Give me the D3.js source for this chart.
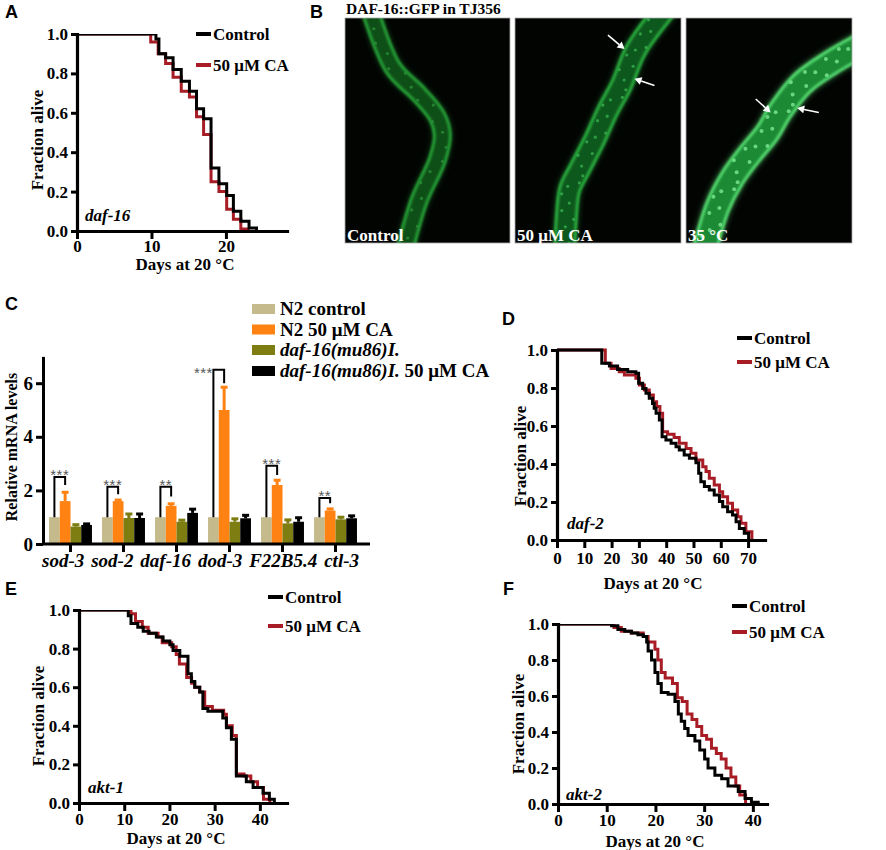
<!DOCTYPE html>
<html><head><meta charset="utf-8">
<script src="https://cdn.jsdelivr.net/npm/d3@7"></script>
<style>body{margin:0;background:#fff}</style>
</head><body>
<script>
// ---------------- DATA ----------------
// Panel A (daf-16)
const daf16Ctrl = [[0,1],[10.6,0.975],[11,0.90],[11.9,0.88],[12.9,0.82],[14,0.76],[15.1,0.71],[16.05,0.62],[17,0.57],[18,0.32],[19.06,0.24],[20.1,0.18],[21,0.10],[22,0.05],[23.1,0.015],[24.1,0]];
const daf16CA   = [[0,1],[9.9,0.96],[10.9,0.90],[11.9,0.85],[12.9,0.78],[14,0.71],[15.1,0.68],[16.05,0.58],[17,0.49],[18,0.25],[19.06,0.20],[20.1,0.11],[21,0.06],[22,0.01],[23,0]];
// Panel D (daf-2)
const daf2Ctrl = [[0,1],[16.4,0.93],[19.2,0.916],[22.2,0.898],[25.9,0.886],[28.9,0.877],[29.9,0.825],[31.4,0.798],[32.6,0.772],[33.8,0.746],[35,0.719],[35.6,0.693],[36.3,0.667],[37.5,0.632],[38.5,0.544],[39.9,0.526],[41.8,0.509],[43.6,0.491],[44.8,0.474],[46.6,0.447],[48.5,0.43],[50.9,0.407],[51.9,0.351],[52.7,0.307],[54,0.281],[55.8,0.263],[57.6,0.237],[59.5,0.202],[60.7,0.175],[62.5,0.149],[64.3,0.132],[65.6,0.096],[66.8,0.061],[68.6,0.035],[70.2,0]];
const daf2CA   = [[0,1],[17.7,0.93],[19.8,0.903],[22.8,0.886],[24.7,0.868],[28.9,0.851],[30.2,0.816],[32,0.79],[33.8,0.763],[35.3,0.728],[36.5,0.702],[37.7,0.667],[38.7,0.57],[40.5,0.556],[42.9,0.539],[44.8,0.509],[47.3,0.482],[49.1,0.456],[50.9,0.421],[53.4,0.386],[54.6,0.36],[55.8,0.325],[57.6,0.289],[59.5,0.254],[60.7,0.228],[62.5,0.193],[64.3,0.158],[66.2,0.123],[67.4,0.088],[69.2,0.044],[71.4,0]];
// Panel E (akt-1)
const akt1Ctrl = [[0,1],[10.9,0.97],[11.5,0.93],[13,0.91],[14.2,0.89],[15.5,0.88],[17.1,0.86],[18.6,0.84],[20.1,0.82],[20.8,0.79],[22.3,0.76],[24.1,0.67],[24.85,0.63],[25.6,0.60],[26.7,0.575],[27.4,0.49],[28.5,0.475],[31.8,0.44],[32.6,0.39],[33.7,0.33],[34.8,0.14],[37,0.11],[38.5,0.08],[40.7,0.05],[42.1,0.02],[43.2,0]];
const akt1CA   = [[0,1],[11.5,0.98],[12.5,0.94],[14,0.91],[15.3,0.88],[17.5,0.86],[18.4,0.83],[20.5,0.81],[21.5,0.77],[22.2,0.72],[23.8,0.65],[24.9,0.62],[25.6,0.60],[26.7,0.575],[27.8,0.50],[29.5,0.48],[32,0.46],[32.6,0.40],[33.9,0.35],[34.8,0.15],[36.5,0.14],[38,0.11],[39.5,0.08],[40.8,0.02],[42.2,0]];
// Panel F (akt-2)
const akt2Ctrl = [[0,1],[11,0.99],[12.3,0.97],[13.7,0.96],[15.1,0.95],[16.4,0.94],[17.5,0.93],[18.2,0.90],[18.5,0.85],[19.2,0.80],[19.9,0.73],[20.5,0.67],[21.2,0.62],[22.6,0.61],[24,0.57],[24.7,0.50],[25.3,0.46],[26,0.42],[26.7,0.38],[28.1,0.35],[29.1,0.30],[30.1,0.25],[30.8,0.20],[32.2,0.16],[33.6,0.14],[34.9,0.10],[37,0.07],[38.4,0.03],[39.7,0.01],[41.1,0]];
const akt2CA   = [[0,1],[11.5,0.98],[13,0.96],[15,0.95],[17.5,0.93],[18.5,0.90],[19.9,0.86],[20.5,0.80],[21.2,0.73],[22,0.70],[23.5,0.67],[24.5,0.59],[25.5,0.57],[26.5,0.50],[27.5,0.47],[28.5,0.43],[29.5,0.38],[30.5,0.36],[31.5,0.31],[32.5,0.28],[33.5,0.25],[34.5,0.20],[35.5,0.15],[36.5,0.10],[37.3,0.05],[38.5,0]];
const fracTicks = [0,0.2,0.4,0.6,0.8,1.0];
const legendNames = ["Control","50 μM CA"];

// Panel C (qPCR)
const genes = ["sod-3","sod-2","daf-16","dod-3","F22B5.4","ctl-3"];
const seriesNames = ["N2 control","N2 50 μM CA","daf-16(mu86)I.","daf-16(mu86)I. 50 μM CA"];
const n2Control    = [1,1,1,1,1,1];
const n2ControlErr = [0,0,0,0,0,0];
const n2CA         = [1.6,1.6,1.42,5.0,2.2,1.25];
const n2CAErr      = [0.33,0.04,0.08,0.85,0.18,0.06];
const daf16Mut     = [0.65,0.97,0.83,0.83,0.77,0.92];
const daf16MutErr  = [0.07,0.15,0.06,0.11,0.13,0.08];
const daf16MutCA   = [0.71,0.97,1.16,0.96,0.83,0.96];
const daf16MutCAErr= [0.04,0.15,0.14,0.11,0.15,0.09];
const sigLabels    = ["***","***","**","***","***","**"];
const bracketTop   = [2.5,2.14,2.14,6.5,2.92,1.72];
const bracketEnd   = [2.2,1.86,1.77,6.0,2.57,1.52];
const mrnaTicks    = [0,2,4,6];

// Panel B
const imageLabels = ["Control","50 μM CA","35 °C"];

// ---------------- STYLE ----------------
const SERIF = "'Liberation Serif','Times New Roman',serif";
const SANS = "'Liberation Sans',Arial,sans-serif";
const RED = "#a81d25";
const barColors = ["#c5ba8b","#ff8213","#7e7d12","#000000"];

const svg = d3.select("body").append("svg").attr("width",886).attr("height",850)
  .style("background","#fff");
const defs = svg.append("defs");

function panelLetter(t,x,y){
  svg.append("text").attr("x",x).attr("y",y).text(t)
    .attr("font-family",SANS).attr("font-weight","bold").attr("font-size",18).attr("fill","#000");
}

// ---------------- SURVIVAL PANELS ----------------
function survival(c){
  const g = svg.append("g");
  const x = d3.scaleLinear().domain([0,c.xEnd]).range([c.px0,c.px1]);
  const y = d3.scaleLinear().domain([0,1]).range([c.py0,c.py1]);
  const line = d3.line().x(d=>x(d[0])).y(d=>y(d[1])).curve(d3.curveStepAfter);
  const lg = g.append("g");
  if(c.clip){
    const id = "clip"+c.id;
    defs.append("clipPath").attr("id",id).append("rect")
      .attr("x",c.px0).attr("y",y(1)).attr("width",c.px1-c.px0).attr("height",c.py0-y(1)+5);
    lg.attr("clip-path",`url(#${id})`);
  }
  lg.append("path").datum(c.ca).attr("d",line).attr("fill","none").attr("stroke",RED).attr("stroke-width",3);
  lg.append("path").datum(c.ctrl).attr("d",line).attr("fill","none").attr("stroke","#000").attr("stroke-width",3);

  const xa = g.append("g").attr("transform",`translate(0,${c.py0})`)
    .call(d3.axisBottom(x).tickValues(c.xTicks).tickSize(8).tickSizeOuter(0).tickPadding(c.xPad).tickFormat(d3.format("d")));
  const ya = g.append("g").attr("transform",`translate(${c.px0},0)`)
    .call(d3.axisLeft(y).tickValues(fracTicks).tickSize(6).tickSizeOuter(0).tickPadding(3).tickFormat(d3.format(".1f")));
  [xa,ya].forEach(a=>{
    a.selectAll("path.domain").attr("stroke","#000").attr("stroke-width",3.2).attr("stroke-linecap","square");
    a.selectAll(".tick line").attr("stroke","#000").attr("stroke-width",3);
    a.selectAll("text").attr("font-family",SERIF).attr("font-weight","bold").attr("font-size",17).attr("fill","#000");
  });
  g.append("text").attr("transform",`translate(${c.ylab[0]},${c.ylab[1]}) rotate(-90)`)
    .attr("text-anchor","middle").attr("dominant-baseline","central").text("Fraction alive")
    .attr("font-family",SERIF).attr("font-weight","bold").attr("font-size",17);
  g.append("text").attr("x",c.xlab[0]).attr("y",c.xlab[1]+7).attr("text-anchor","middle").text("Days at 20 °C")
    .attr("font-family",SERIF).attr("font-weight","bold").attr("font-size",17);
  g.append("text").attr("x",c.gene[1]).attr("y",c.gene[2]).text(c.gene[0])
    .attr("font-family",SERIF).attr("font-weight","bold").attr("font-style","italic").attr("font-size",17);
  const lcol = ["#000",RED];
  legendNames.forEach((nm,i)=>{
    const ly = c.leg[1+i];
    g.append("line").attr("x1",c.leg[0]).attr("x2",c.leg[0]+15).attr("y1",ly).attr("y2",ly)
      .attr("stroke",lcol[i]).attr("stroke-width",4);
    g.append("text").attr("x",c.leg[0]+17).attr("y",ly+6).text(nm)
      .attr("font-family",SERIF).attr("font-weight","bold").attr("font-size",17);
  });
}

survival({id:"A",ctrl:daf16Ctrl,ca:daf16CA,xEnd:28.2,px0:77,px1:287,py0:231,py1:34,xTicks:[0,10,20],xPad:1,
  ylab:[37,140],xlab:[185,263],gene:["daf-16",85,221],leg:[196,34,65],clip:true});
survival({id:"D",ctrl:daf2Ctrl,ca:daf2CA,xEnd:76.2,px0:557,px1:765,py0:540,py1:350,xTicks:[0,10,20,30,40,50,60,70],xPad:4,
  ylab:[520,456],xlab:[653,582],gene:["daf-2",567,529],leg:[737,338,362],clip:false});
survival({id:"E",ctrl:akt1Ctrl,ca:akt1CA,xEnd:46,px0:79,px1:287,py0:803,py1:610,xTicks:[0,10,20,30,40],xPad:2,
  ylab:[38,716],xlab:[176,837],gene:["akt-1",88,793],leg:[268,597,626],clip:true});
survival({id:"F",ctrl:akt2Ctrl,ca:akt2CA,xEnd:42.9,px0:558,px1:767,py0:804,py1:624,xTicks:[0,10,20,30,40],xPad:2,
  ylab:[518,724],xlab:[655,840],gene:["akt-2",566,800],leg:[732,606,632],clip:true});

panelLetter("A",5,18);
panelLetter("B",310,18);
panelLetter("C",5,310);
panelLetter("D",502,325);
panelLetter("E",5,595);
panelLetter("F",503,595);

// ---------------- PANEL C ----------------
(function(){
  const g = svg.append("g");
  const y = d3.scaleLinear().domain([0,7]).range([544,356.4]);
  const x0 = d3.scaleBand().domain(genes).range([44,362]).paddingInner(0.19).paddingOuter(0.095);
  const x1 = d3.scaleBand().domain(seriesNames).range([0,x0.bandwidth()]);
  const means = [n2Control,n2CA,daf16Mut,daf16MutCA];
  const errs = [n2ControlErr,n2CAErr,daf16MutErr,daf16MutCAErr];
  const rows = [];
  genes.forEach((gname,i)=>seriesNames.forEach((s,j)=>rows.push({gene:gname,s,j,v:means[j][i],e:errs[j][i]})));
  const bw = x1.bandwidth();
  rows.filter(d=>d.e>0).forEach(d=>{
    const cx = x0(d.gene)+x1(d.s)+bw/2;
    g.append("line").attr("x1",cx).attr("x2",cx).attr("y1",y(d.v)).attr("y2",y(d.v+d.e))
      .attr("stroke",barColors[d.j]).attr("stroke-width",3);
    g.append("line").attr("x1",cx-3.5).attr("x2",cx+3.5).attr("y1",y(d.v+d.e)).attr("y2",y(d.v+d.e))
      .attr("stroke",barColors[d.j]).attr("stroke-width",3);
  });
  g.selectAll("rect.bar").data(rows).join("rect").attr("class","bar")
    .attr("x",d=>x0(d.gene)+x1(d.s)).attr("width",bw)
    .attr("y",d=>y(d.v)).attr("height",d=>y(0)-y(d.v)).attr("fill",d=>barColors[d.j]);
  genes.forEach((gname,i)=>{
    const lx = x0(gname)+x1(seriesNames[0])+bw/2;
    const rx = x0(gname)+x1(seriesNames[1])+bw/2;
    const path = `M${lx},${y(n2Control[i])}V${y(bracketTop[i])}H${rx}V${y(bracketEnd[i])}`;
    g.append("path").attr("d",path).attr("fill","none").attr("stroke","#000").attr("stroke-width",2);
    const high = bracketTop[i] > 6;
    g.append("text").attr("x",high ? lx-10 : (lx+rx)/2).attr("y",high ? y(bracketTop[i])+8 : y(bracketTop[i])+3)
      .attr("text-anchor","middle").text(sigLabels[i])
      .attr("font-family",SANS).attr("font-size",15).attr("fill","#555").attr("letter-spacing",0.5);
  });
  const ya = g.append("g").attr("transform","translate(43,0)")
    .call(d3.axisLeft(y).tickValues(mrnaTicks).tickSize(7).tickSizeOuter(0).tickPadding(3).tickFormat(d3.format("d")));
  const xa = g.append("g").attr("transform","translate(0,544)")
    .call(d3.axisBottom(x0).tickSize(8).tickSizeOuter(0).tickPadding(2));
  xa.select("path.domain").remove();
  g.append("line").attr("x1",43).attr("x2",370).attr("y1",544).attr("y2",544).attr("stroke","#000").attr("stroke-width",3);
  [xa,ya].forEach(a=>{
    a.selectAll("path.domain").attr("stroke","#000").attr("stroke-width",3);
    a.selectAll(".tick line").attr("stroke","#000").attr("stroke-width",3);
    a.selectAll("text").attr("font-family",SERIF).attr("font-weight","bold").attr("font-size",19).attr("fill","#000");
  });
  // category labels laid out as a single evenly spaced row (as in the original)
  const labs = xa.selectAll(".tick text").attr("font-style","italic").attr("text-anchor","start").nodes();
  const widths = labs.map(n=>n.getComputedTextLength());
  const left = 42, right = 359;
  const gap = (right-left - d3.sum(widths))/(labs.length-1);
  let cur = left;
  labs.forEach((n,i)=>{
    const tickX = x0(genes[i]) + x0.bandwidth()/2;
    d3.select(n).attr("x", cur - tickX);
    cur += widths[i] + gap;
  });
  g.append("text").attr("transform","translate(11,447) rotate(-90)").attr("text-anchor","middle")
    .attr("dominant-baseline","central").text("Relative mRNA levels")
    .attr("font-family",SERIF).attr("font-weight","bold").attr("font-size",16);
  const rowY = [309,329.5,350,371];
  seriesNames.forEach((s,j)=>{
    g.append("rect").attr("x",252).attr("y",rowY[j]-5).attr("width",23).attr("height",10).attr("fill",barColors[j]);
    const t = g.append("text").attr("x",280).attr("y",rowY[j]+6)
      .attr("font-family",SERIF).attr("font-weight","bold").attr("font-size",19);
    if(s.startsWith("daf-16")){
      const base = "daf-16(mu86)I.";
      t.append("tspan").attr("font-style","italic").text(base);
      const rest = s.slice(base.length);
      if(rest) t.append("tspan").text(rest);
    } else t.text(s);
  });
})();

// ---------------- PANEL B ----------------
svg.append("text").attr("x",346).attr("y",14).text("DAF-16::GFP in TJ356")
  .attr("font-family",SERIF).attr("font-weight","bold").attr("font-size",15.5);

const blur = defs.append("filter").attr("id","soft").attr("x","-20%").attr("y","-20%").attr("width","140%").attr("height","140%");
blur.append("feGaussianBlur").attr("stdDeviation",1.1);
const glow = defs.append("filter").attr("id","glow").attr("x","-20%").attr("y","-20%").attr("width","140%").attr("height","140%");
glow.append("feGaussianBlur").attr("stdDeviation",2.5);

const imgBoxes = [
  {x:345,y:18,w:165,h:225,width:19,edge:"#27a037",inner:"#0c4f17",dot:"#2a8f38",glow:0.25,
   worm:[[0.15,-0.04],[0.29,0.22],[0.45,0.34],[0.56,0.44],[0.59,0.52],[0.56,0.63],[0.45,0.81],[0.36,1.04]],arrows:[]},
  {x:515,y:18,w:166,h:225,width:23,edge:"#2cae40",inner:"#10581d",dot:"#37b04f",glow:0.3,
   worm:[[0.92,-0.05],[0.73,0.14],[0.64,0.30],[0.56,0.41],[0.48,0.54],[0.39,0.67],[0.33,0.76],[0.31,0.88],[0.30,1.04]],
   arrows:[[0.56,0.076,0.66,0.138],[0.84,0.30,0.72,0.27]]},
  {x:686,y:18,w:166,h:225,width:26,edge:"#56db71",inner:"#1c8a35",dot:"#7be891",glow:0.4,
   worm:[[1.06,0.12],[0.87,0.20],[0.70,0.29],[0.57,0.41],[0.49,0.51],[0.39,0.60],[0.28,0.71],[0.19,0.84],[0.11,1.04]],
   arrows:[[0.42,0.36,0.51,0.42],[0.80,0.42,0.67,0.40]]}
];
const dotOff = [-0.28,0.12,0.3,-0.08,0.22,-0.32,0.02,0.26,-0.18,0.34,-0.02,-0.26];
imgBoxes.forEach((b,i)=>{
  const id = "imgclip"+i;
  defs.append("clipPath").attr("id",id).append("rect").attr("x",b.x).attr("y",b.y).attr("width",b.w).attr("height",b.h);
  const g = svg.append("g").attr("clip-path",`url(#${id})`);
  g.append("rect").attr("x",b.x).attr("y",b.y).attr("width",b.w).attr("height",b.h).attr("fill","#020402");
  const pts = b.worm.map(p=>[b.x+p[0]*b.w, b.y+p[1]*b.h]);
  const wl = d3.line().curve(d3.curveCatmullRom.alpha(0.5));
  const wg = g.append("g");
  wg.append("path").attr("d",wl(pts)).attr("fill","none").attr("stroke",b.edge).attr("stroke-width",b.width+3).attr("opacity",b.glow).attr("filter","url(#glow)");
  wg.append("path").attr("d",wl(pts)).attr("fill","none").attr("stroke",b.edge).attr("stroke-width",b.width).attr("filter","url(#soft)");
  const mid = wg.append("path").attr("d",wl(pts)).attr("fill","none").attr("stroke",b.inner).attr("stroke-width",b.width-6).attr("filter","url(#soft)");
  const node = mid.node(); const L = node.getTotalLength();
  let k=0;
  for(let s=6; s<L; s+= (i===0?14:8)){
    const p = node.getPointAtLength(s), q = node.getPointAtLength(Math.min(L,s+1));
    const dx=q.x-p.x, dy=q.y-p.y, n=Math.hypot(dx,dy)||1;
    const o = dotOff[k%dotOff.length]*b.width; k++;
    wg.append("circle").attr("cx",p.x - dy/n*o).attr("cy",p.y + dx/n*o).attr("r",i===2?2:1.6)
      .attr("fill",b.dot).attr("opacity",0.8);
  }
  b.arrows.forEach(a=>{
    const x1=b.x+a[0]*b.w, y1=b.y+a[1]*b.h, x2=b.x+a[2]*b.w, y2=b.y+a[3]*b.h;
    const ang = Math.atan2(y2-y1,x2-x1), hl=7, hw=4;
    const bx = x2-hl*Math.cos(ang), by = y2-hl*Math.sin(ang);
    g.append("line").attr("x1",x1).attr("y1",y1).attr("x2",bx).attr("y2",by).attr("stroke","#fff").attr("stroke-width",1.6);
    g.append("path").attr("d",`M${x2},${y2}L${bx-hw*Math.sin(ang)},${by+hw*Math.cos(ang)}L${bx+hw*Math.sin(ang)},${by-hw*Math.cos(ang)}Z`).attr("fill","#fff");
  });
  svg.append("rect").attr("x",b.x).attr("y",b.y).attr("width",b.w).attr("height",b.h).attr("fill","none").attr("stroke","#aaa").attr("stroke-width",0.8);
  svg.append("text").attr("x",b.x+2).attr("y",b.y+b.h-2).text(imageLabels[i])
    .attr("font-family",SERIF).attr("font-weight","bold").attr("font-size",17).attr("fill","#fff");
});
</script>
</body></html>
